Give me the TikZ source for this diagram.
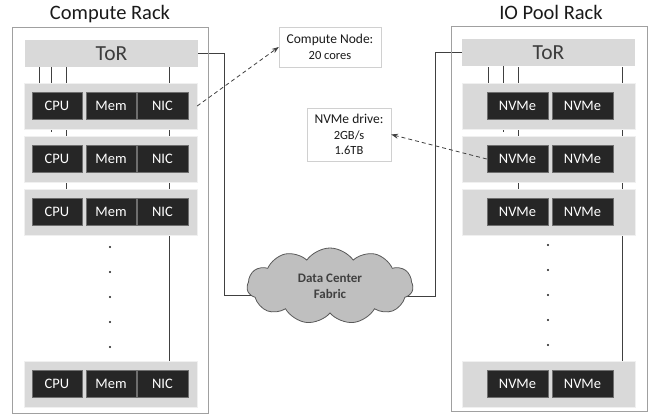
\documentclass[tikz,border=0pt]{standalone}
\usepackage{fontspec}
\setmainfont{Carlito}
\usetikzlibrary{arrows.meta,positioning,calc,shapes.symbols}
\definecolor{ink}{HTML}{1A1A1A}
\definecolor{wire}{HTML}{404040}
\definecolor{frame}{HTML}{A0A0A0}
\definecolor{tray}{HTML}{D9D9D9}
\definecolor{chipfill}{HTML}{262626}
\definecolor{chipedge}{HTML}{6E6E6E}
\definecolor{cloudfill}{HTML}{BFBFBF}
\definecolor{cloudedge}{HTML}{595959}
\definecolor{noteedge}{HTML}{D0D0D0}
\pgfdeclarelayer{background}
\pgfsetlayers{background,main}
\tikzset{rack/.style={draw=frame,line width=0.9pt,inner sep=0pt,anchor=north west},
  racktitle/.style={anchor=base,font=\fontsize{20.5}{24}\selectfont,text=ink},
  tor/.style={fill=tray,minimum width=173pt,minimum height=27pt,inner sep=0pt,font=\fontsize{21.5}{24}\selectfont,text=ink!85},
  slot/.style={fill=tray,draw=tray!40,minimum width=173pt,minimum height=46pt,inner sep=0pt},
  chip/.style={fill=chipfill,draw=chipedge,line width=0.6pt,text=white,minimum height=27pt,inner sep=0pt,font=\fontsize{14.5}{16}\selectfont},
  link/.style={draw=wire,line width=0.9pt},
  note/.style={draw=noteedge,fill=white,align=center,inner sep=0pt,font=\fontsize{12.5}{15.5}\selectfont,text=ink},
  pointer/.style={-{Stealth[length=7pt,width=5pt]},dash pattern=on 4pt off 3pt,draw=wire,line width=0.8pt}}

\begin{document}
\begin{tikzpicture}[x=1pt,y=-1pt]
\useasboundingbox (0,0) rectangle (655,418);
% the two racks
\node[rack,minimum width=196pt,minimum height=386pt] (crack) at (12,27) {};
\node[rack,minimum width=196pt,minimum height=385pt] (rrack) at (451,26) {};
\node[racktitle] (ctitle) at (110,19.5) {Compute Rack};
\node[racktitle] (rtitle) at (551,19.5) {IO Pool Rack};
\node[tor] (ctor) at (111.5,53.5) {ToR};
\node[tor] (rtor) at (548.5,52.5) {ToR};
% servers / storage trays
\foreach \i/\y in {1/106,2/159,3/212,4/384} {
  \node[slot] (cslot\i) at (110.5,\y) {};
  \node[chip,minimum width=50pt] (ccpu\i) at (57,\y) {CPU};
  \node[chip,minimum width=50pt] (cmem\i) at (111,\y) {Mem};
  \node[chip,minimum width=51pt] (cnic\i) at (162.5,\y) {NIC};
  \node[slot] (rslot\i) at (548.5,\y) {};
  \node[chip,minimum width=61pt] (rnvmea\i) at (517.5,\y) {NVMe};
  \node[chip,minimum width=61pt] (rnvmeb\i) at (582.5,\y) {NVMe};
}
% vertical ellipses
\foreach \y in {247,272,297,322,347} {
  \fill[ink] (110,\y) circle (1.1pt);
  \fill[ink] (548,\y-2) circle (1.1pt);
}
\node[cloud,cloud puffs=11,cloud puff arc=110,cloud ignores aspect,minimum width=166pt,minimum height=76pt,
  fill=cloudfill,draw=cloudedge,line width=0.8pt,inner sep=0pt,align=center,
  font=\bfseries\fontsize{13}{16}\selectfont,text=wire] (fabric) at (330,286) {Data Center\\Fabric};
\node[note,minimum width=102pt,minimum height=40pt] (cnote) at (330,47) {{\fontsize{13.5}{15.5}\selectfont Compute Node:}\\20 cores};
\node[note,minimum width=84pt,minimum height=53pt] (nnote) at (349,134.5) {{\fontsize{13.5}{15.5}\selectfont NVMe drive:}\\2GB/s\\1.6TB};
% cabling, kept behind the trays and the cloud
\begin{pgfonlayer}{background}
  \foreach \x/\to in {39/cslot1,66/cslot3,169/cslot4,488/rslot1,518/rslot3,622/rslot4}
    \draw[link] (\x,0 |- ctor.south) -- (\x,0 |- \to.north);
  \coordinate (cstub) at (51,132);
  \coordinate (rstub) at (503,132);
  \draw[link] (cstub |- ctor.south) -- (cstub);
  \draw[link] (rstub |- rtor.south) -- (rstub);
  \draw[link] (ctor.east) -- ++(26,0) |- ([yshift=-9pt]fabric.center);
  \draw[link] (rtor.west) -- ++(-26,0) |- ([yshift=-10pt]fabric.center);
\end{pgfonlayer}
\draw[pointer] (cslot1.east) -- (cnote.west);
\draw[pointer] (rnvmea2.west) -- (nnote.east);
\end{tikzpicture}
\end{document}
